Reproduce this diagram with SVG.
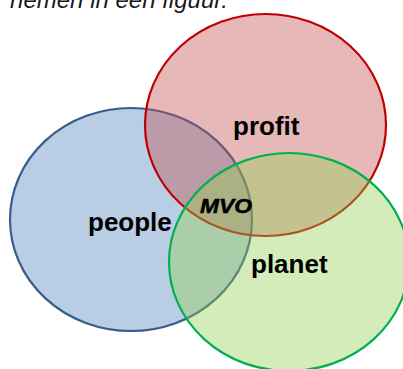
<svg xmlns="http://www.w3.org/2000/svg" width="403" height="369" viewBox="0 0 403 369">
  <style>
    .set { stroke-width: 2.2; fill-opacity: 0.4; }
    .label { font-family: "Liberation Sans", Arial, sans-serif; font-weight: bold; font-size: 26px; fill: #000; }
    .core { font-family: "Liberation Sans", Arial, sans-serif; font-weight: bold; font-style: italic; font-size: 20px; fill: #000; stroke: #000; stroke-width: 0.5; }
    .caption { font-family: "Liberation Sans", Arial, sans-serif; font-style: italic; font-size: 24px; fill: #1a1a1a; }
  </style>
  <rect width="403" height="369" fill="#fff"/>
  <text class="caption" x="228" y="8" text-anchor="end">nemen in een figuur.</text>

  <!-- three overlapping sets, drawn back to front -->
  <g id="people">
    <ellipse class="set" cx="131" cy="219.5" rx="121" ry="111.5" fill="#4F81BD" stroke="#385D8A"/>
  </g>
  <g id="profit">
    <ellipse class="set" cx="265.5" cy="125" rx="120.5" ry="111" fill="#C0504D" stroke="#C00000"/>
  </g>
  <g id="planet">
    <ellipse class="set" cx="289" cy="262" rx="120" ry="109" fill="#92D050" stroke="#00B050"/>
  </g>

  <g id="labels">
    <text class="label" x="88" y="231">people</text>
    <text class="label" x="233" y="135">profit</text>
    <text class="label" x="251" y="273">planet</text>
    <text class="core" x="200" y="213" textLength="52" lengthAdjust="spacingAndGlyphs">MVO</text>
  </g>
</svg>
